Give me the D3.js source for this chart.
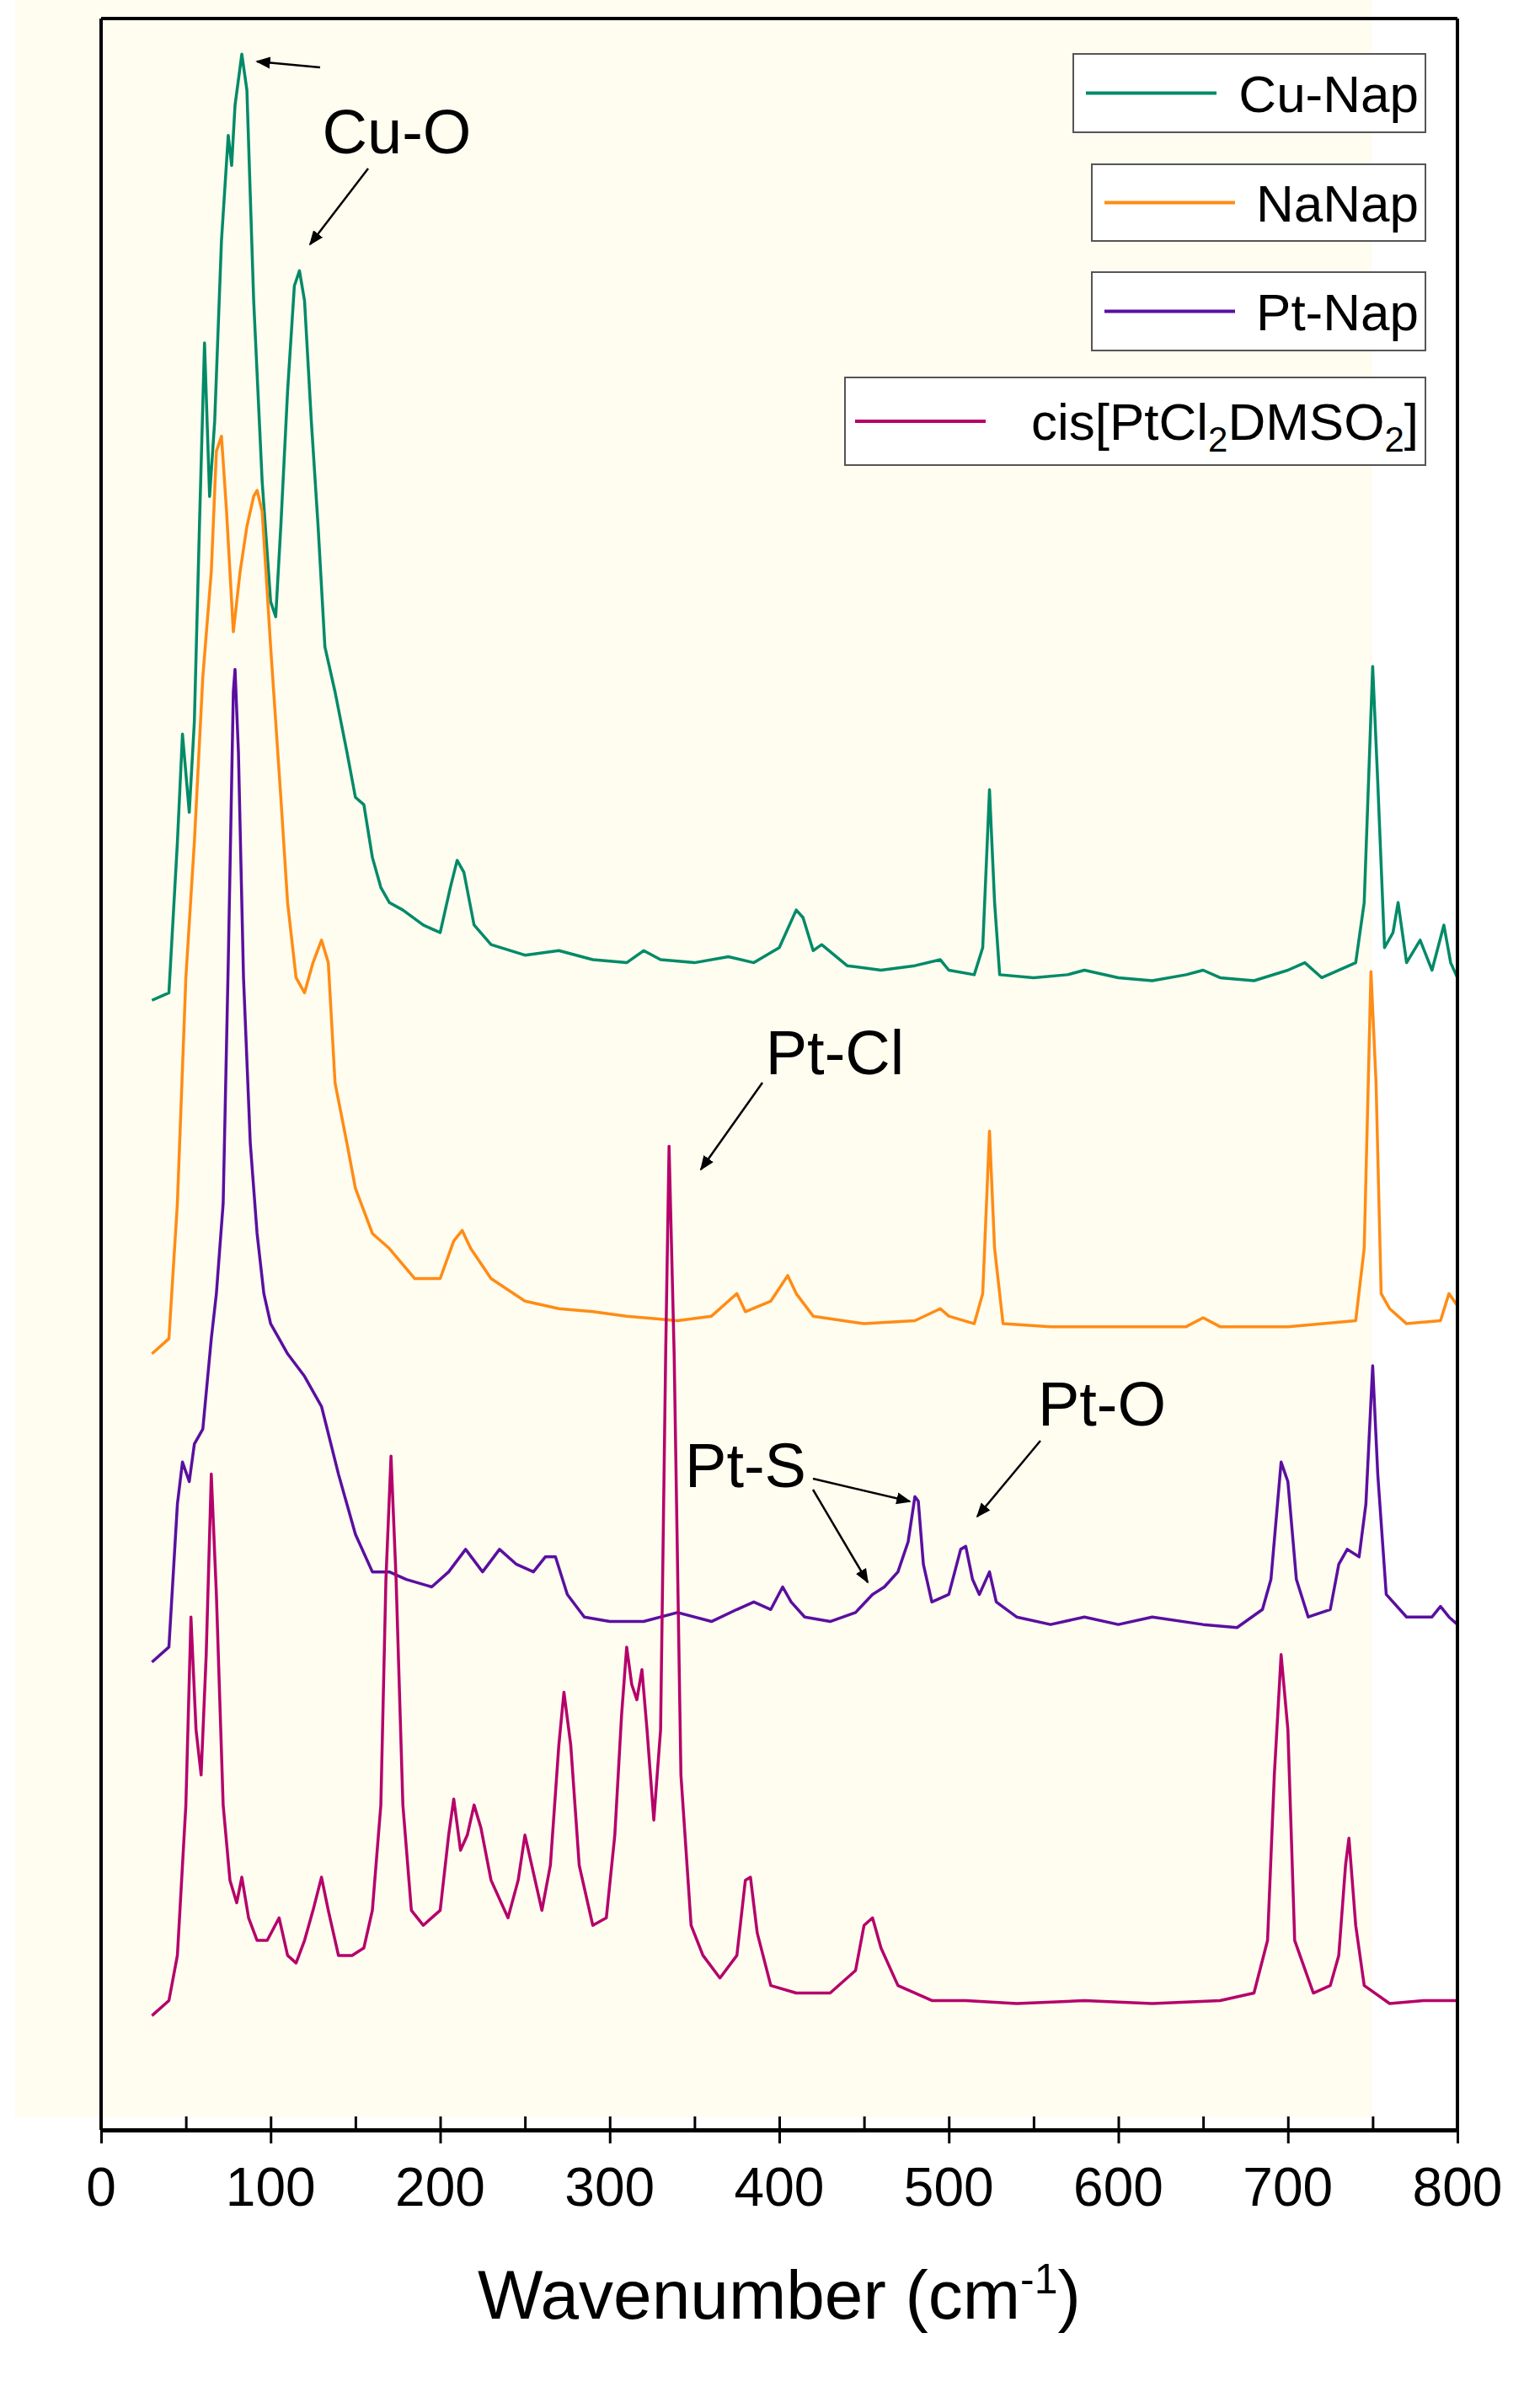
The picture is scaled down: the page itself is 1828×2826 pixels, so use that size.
<!DOCTYPE html>
<html><head><meta charset="utf-8">
<script src="https://cdn.jsdelivr.net/npm/d3@7"></script>
<style>body{margin:0;background:#fff}</style>
</head><body><div class="canvas"></div>
<script>
// readings: wavenumber, and depth from top of plot in reading units (axis = 1416)
const cuW = [30,40,45,48,52,55,58,61,64,67,71,75,77,79,83,86,90,95,100,103,106,110,114,117,120,124,128,132,138,145,150,155,160,165,170,178,190,200,206,210,214,220,230,250,270,290,310,320,330,350,370,385,400,410,414,420,425,440,460,480,495,500,515,520,524,527,530,550,570,580,600,620,640,650,660,680,700,710,720,740,745,750,753,757,762,765,770,778,785,792,796,800];
const cuY = [665,660,560,488,540,480,350,228,330,280,160,90,110,70,36,60,200,320,400,410,350,260,190,180,200,280,350,430,460,500,530,535,570,590,600,605,615,620,590,572,580,615,628,635,632,638,640,632,638,640,636,640,630,605,610,632,628,642,645,642,638,645,648,630,525,600,648,650,648,645,650,652,648,645,650,652,645,640,650,640,600,443,520,630,620,600,640,625,645,615,640,650];
const naW = [30,40,45,50,55,60,65,68,71,74,78,82,86,90,92,95,100,106,110,115,120,125,130,134,138,145,150,160,170,185,200,208,213,218,230,250,270,290,310,340,360,370,375,380,395,405,410,420,450,480,495,500,515,520,524,527,532,560,600,640,650,660,700,740,745,749,752,755,760,770,790,795,800];
const naY = [900,890,800,650,560,450,380,300,290,340,420,380,350,330,326,340,430,530,600,650,660,640,625,640,720,760,790,820,830,850,850,825,818,830,850,865,870,872,875,878,875,865,860,872,865,848,860,875,880,878,870,875,880,860,752,830,880,882,882,882,876,882,882,878,830,646,720,860,870,880,878,860,868];
const ptW = [30,40,45,48,52,55,60,65,68,72,75,78,79,81,84,88,92,96,100,105,110,120,130,140,145,150,160,170,180,195,205,215,225,235,245,255,262,268,275,285,300,320,340,360,375,385,395,402,407,415,430,445,455,462,470,476,480,482,485,490,500,507,510,514,518,524,528,540,560,580,600,620,650,670,685,690,696,700,705,712,725,730,735,742,746,750,753,758,770,785,790,795,800];
const ptY = [1105,1095,1000,972,985,960,950,890,860,800,640,460,445,500,650,760,820,860,880,890,900,915,935,980,1000,1020,1045,1045,1050,1055,1045,1030,1045,1030,1040,1045,1035,1035,1060,1075,1078,1078,1072,1078,1070,1065,1070,1055,1065,1075,1078,1072,1060,1055,1045,1025,995,998,1040,1065,1060,1030,1028,1050,1060,1045,1065,1075,1080,1075,1080,1075,1080,1082,1070,1050,972,985,1050,1075,1070,1040,1030,1035,1000,908,980,1060,1075,1075,1068,1075,1080];
const cisW = [30,40,45,50,53,56,59,62,65,68,72,76,80,83,87,92,98,105,110,115,120,125,130,134,140,148,155,160,165,168,171,174,178,183,190,200,205,208,212,216,220,224,230,240,246,250,254,260,265,270,273,277,282,290,298,303,307,310,313,316,319,322,326,330,333,335,338,342,348,355,365,375,380,383,387,395,410,430,445,450,455,460,470,490,510,540,580,620,660,680,688,692,696,700,704,715,725,730,734,736,740,745,760,780,800];
const cisY = [1340,1330,1300,1200,1075,1150,1180,1100,980,1060,1200,1250,1265,1248,1275,1290,1290,1275,1300,1305,1290,1270,1248,1270,1300,1300,1295,1270,1200,1050,968,1050,1200,1270,1280,1270,1220,1196,1230,1220,1200,1215,1250,1275,1250,1220,1240,1270,1240,1160,1125,1160,1240,1280,1275,1220,1140,1095,1120,1130,1110,1150,1210,1150,900,762,900,1180,1280,1300,1315,1300,1250,1248,1285,1320,1325,1325,1310,1280,1275,1295,1320,1330,1330,1332,1330,1332,1330,1325,1290,1180,1100,1150,1290,1325,1320,1300,1240,1222,1280,1320,1332,1330,1330];

const seriesNames = ['Cu-Nap','NaNap','Pt-Nap','cis[PtCl2DMSO2]'];
const seriesColors = ['#008a68','#ff8c14','#5a0fa0','#b5006a'];
const xTicks = [0,100,200,300,400,500,600,700,800];

const series = [[cuW,cuY],[naW,naY],[ptW,ptY],[cisW,cisY]];

const W = 1828, H = 2826;
const svg = d3.select('.canvas').append('svg').attr('width', W).attr('height', H)
    .style('font-family', 'Liberation Sans, Arial, sans-serif');

const x = d3.scaleLinear().domain([0, 800]).range([120, 1730]);
const y = d3.scaleLinear().domain([0, 1416]).range([0, 2528]);

// cream background
svg.append('rect').attr('x', 18).attr('y', 0).attr('width', 1610).attr('height', 2513).attr('fill', '#fffcf0');

const defs = svg.append('defs');
defs.append('marker').attr('id', 'ah').attr('viewBox', '0 0 10 10').attr('refX', 9).attr('refY', 5)
    .attr('markerWidth', 7).attr('markerHeight', 7).attr('orient', 'auto')
    .append('path').attr('d', 'M0,1 L10,5 L0,9 z').attr('fill', '#000');

const line = d3.line().x(d => x(d[0])).y(d => y(d[1]));
series.forEach((s, i) => {
    const pts = s[0].map((w, j) => [w, s[1][j]]);
    svg.append('path').datum(pts).attr('d', line).attr('fill', 'none')
        .attr('stroke', seriesColors[i]).attr('stroke-width', 3.5).attr('stroke-linejoin', 'round');
});

// frame
svg.append('line').attr('x1', 120).attr('x2', 120).attr('y1', 22).attr('y2', 2528).attr('stroke', '#000').attr('stroke-width', 4);
svg.append('line').attr('x1', 1730).attr('x2', 1730).attr('y1', 22).attr('y2', 2528).attr('stroke', '#000').attr('stroke-width', 4);
svg.append('line').attr('x1', 120).attr('x2', 1730).attr('y1', 22).attr('y2', 22).attr('stroke', '#000').attr('stroke-width', 4);

const xAxis = d3.axisBottom(x).tickValues(d3.range(0, 801, 50)).tickSize(0).tickFormat(() => '');
const xg = svg.append('g').attr('transform', 'translate(0,2528)').call(xAxis);
xg.select('.domain').attr('stroke-width', 5);
xg.selectAll('.tick line').attr('y1', -16).attr('y2', d => d % 100 === 0 ? 16 : 0).attr('stroke-width', 3);
svg.selectAll('.xlab').data(xTicks).enter().append('text')
    .attr('x', d => x(d)).attr('y', 2618).attr('text-anchor', 'middle')
    .attr('font-size', 64).text(d => d);

const title = svg.append('text').attr('x', 925).attr('y', 2752).attr('text-anchor', 'middle').attr('font-size', 82);
title.append('tspan').text('Wavenumber (cm');
title.append('tspan').attr('dy', -30).attr('font-size', 50).text('-1');
title.append('tspan').attr('dy', 30).text(')');

// legend
const legendBoxes = [[1274, 64, 418, 93], [1296, 195, 396, 91], [1296, 323, 396, 93], [1003, 448, 689, 104]];
legendBoxes.forEach((b, i) => {
    svg.append('rect').attr('x', b[0]).attr('y', b[1]).attr('width', b[2]).attr('height', b[3])
        .attr('fill', '#fff').attr('stroke', '#555').attr('stroke-width', 2);
    const ly = b[1] + b[3] / 2;
    const lx = i === 3 ? 1015 : b[0] + 15;
    svg.append('line').attr('x1', lx).attr('x2', lx + 155).attr('y1', ly).attr('y2', ly)
        .attr('stroke', seriesColors[i]).attr('stroke-width', 4);
    const t = svg.append('text').attr('x', 1684).attr('y', ly + 22).attr('text-anchor', 'end').attr('font-size', 62);
    if (i === 3) {
        t.append('tspan').text('cis[PtCl');
        t.append('tspan').attr('dy', 14).attr('font-size', 42).text('2');
        t.append('tspan').attr('dy', -14).text('DMSO');
        t.append('tspan').attr('dy', 14).attr('font-size', 42).text('2');
        t.append('tspan').attr('dy', -14).text(']');
    } else t.text(seriesNames[i]);
});

// annotations
const notes = [['Cu-O', 471, 182], ['Pt-Cl', 991, 1275], ['Pt-S', 885, 1765], ['Pt-O', 1308, 1692]];
notes.forEach(n => svg.append('text').attr('x', n[1]).attr('y', n[2]).attr('text-anchor', 'middle').attr('font-size', 74).text(n[0]));
const arrows = [[380, 80, 305, 73], [437, 200, 368, 290], [905, 1285, 832, 1388], [965, 1755, 1080, 1782], [965, 1768, 1030, 1878], [1235, 1710, 1160, 1800]];
arrows.forEach(a => svg.append('line').attr('x1', a[0]).attr('y1', a[1]).attr('x2', a[2]).attr('y2', a[3])
    .attr('stroke', '#000').attr('stroke-width', 2.5).attr('marker-end', 'url(#ah)'));
</script></body></html>
